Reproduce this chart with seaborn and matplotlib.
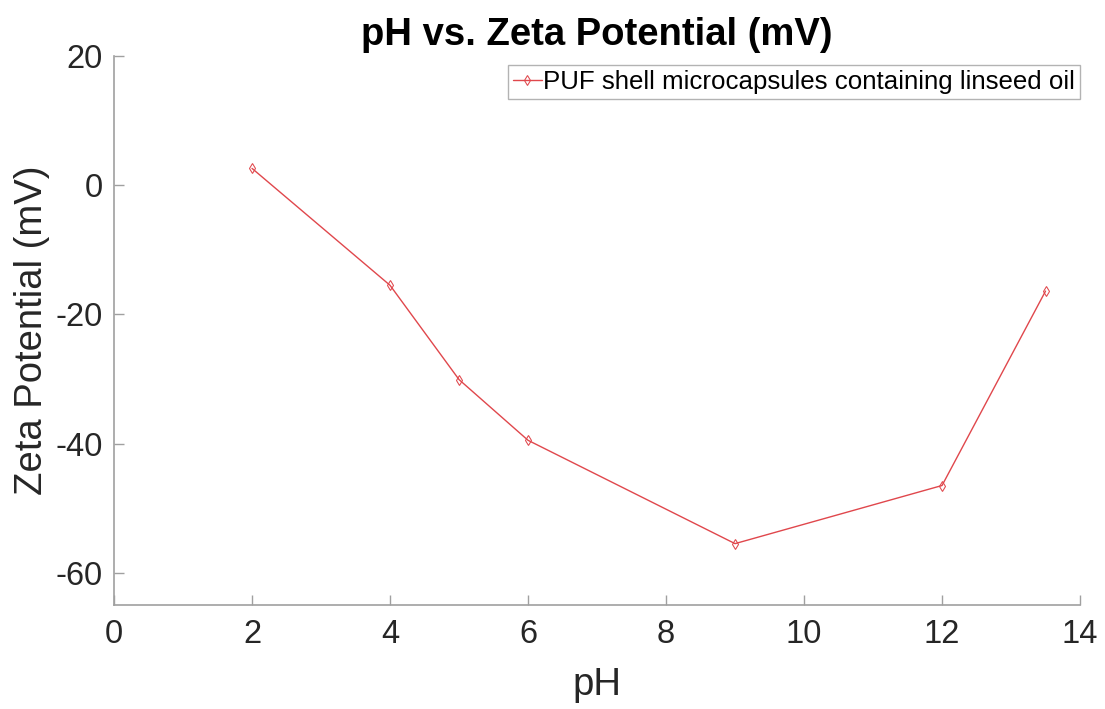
import matplotlib
matplotlib.use("Agg")
import matplotlib.pyplot as plt
import seaborn as sns
import pandas as pd

ph = [2, 4, 5, 6, 9, 12, 13.5]
zeta = [2.6, -15.5, -30.1, -39.5, -55.5, -46.5, -16.4]
series_name = "PUF shell microcapsules containing linseed oil"
xticks = [0, 2, 4, 6, 8, 10, 12, 14]
yticks = [-60, -40, -20, 0, 20]

sns.set_theme(style="white")
plt.rcParams['font.family'] = ['Liberation Sans', 'DejaVu Sans']
plt.rcParams['axes.unicode_minus'] = False

df = pd.DataFrame({"pH": ph, "Zeta": zeta, "series": series_name})

fig = plt.figure(figsize=(11.05, 7.09), dpi=100)
ax = fig.add_axes([0.1032, 0.1467, 0.8742, 0.7743])
sns.lineplot(data=df, x="pH", y="Zeta", hue="series", palette=["#e0474c"],
             marker="d", markersize=5, markerfacecolor="none",
             markeredgecolor="#e0474c", linewidth=1.0, ax=ax, sort=False)

ax.set_xlim(0, 14)
ax.set_ylim(-65, 20)
ax.set_xticks(xticks)
ax.set_yticks(yticks)
ax.tick_params(axis="both", which="major", bottom=True, left=True,
               labelsize=23.5, labelcolor="#262626", direction="in",
               length=7, width=1, color="#a0a0a0")
ax.tick_params(axis="x", pad=10)
ax.tick_params(axis="y", pad=8)
for s in ["top", "right"]:
    ax.spines[s].set_visible(False)
for s in ["left", "bottom"]:
    ax.spines[s].set_color("#a0a0a0")
    ax.spines[s].set_linewidth(1.2)

ax.set_xlabel("pH", fontsize=27.5, color="#262626", labelpad=12)
ax.set_ylabel("Zeta Potential (mV)", fontsize=27.5, color="#262626", labelpad=4)
ax.set_title("pH vs. Zeta Potential (mV)", fontsize=27.5, fontweight="bold",
             color="black", pad=8)

leg = ax.legend(loc="upper right", fontsize=18.6, frameon=True, fancybox=False,
                handlelength=1.1, handletextpad=0.05, borderpad=0.2,
                borderaxespad=0.0, bbox_to_anchor=(1.0, 0.984))
leg.get_frame().set_edgecolor("#a0a0a0")
leg.get_frame().set_linewidth(1.0)
for t in leg.get_texts():
    t.set_color("black")

fig.savefig("out.png", dpi=100)
